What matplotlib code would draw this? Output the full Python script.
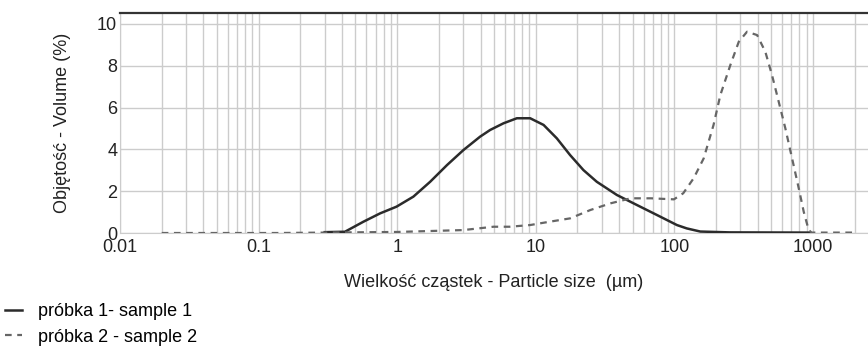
import numpy as np
import matplotlib
matplotlib.use("Agg")
import matplotlib.pyplot as plt
from matplotlib.ticker import FixedLocator, FuncFormatter

plt.rcParams['font.family'] = ['Liberation Sans', 'DejaVu Sans']

# próbka 1 - sample 1 (solid)
size1 = [0.3, 0.42, 0.571, 0.754, 0.99, 1.31, 1.73, 2.29, 3.01, 3.97, 4.69, 5.86,
         7.31, 9.12, 11.4, 14.2, 17.7, 22.1, 27.6, 38.5, 53.7, 75.0, 104.5, 123,
         154, 250, 950]
vol1 = [0.04, 0.06, 0.54, 0.94, 1.26, 1.74, 2.45, 3.25, 3.97, 4.61, 4.93, 5.25,
        5.49, 5.49, 5.17, 4.53, 3.73, 3.01, 2.45, 1.82, 1.34, 0.86, 0.38, 0.22,
        0.07, 0.03, 0.02]

# próbka 2 - sample 2 (dashed)
size2 = [0.02, 0.14, 1.0, 3.0, 4.96, 6.5, 9.1, 12.6, 17.7, 24.8, 34.7, 48.5, 67.9,
         99.4, 116, 138, 163, 192, 215, 254, 292, 335, 396, 454, 507, 567, 633,
         708, 791, 859, 933, 980, 2000]
vol2 = [0.0, 0.0, 0.05, 0.14, 0.30, 0.30, 0.38, 0.54, 0.70, 1.10, 1.42, 1.66, 1.66,
        1.61, 1.90, 2.62, 3.57, 5.17, 6.60, 8.04, 9.15, 9.63, 9.47, 8.67, 7.56,
        6.28, 5.01, 3.57, 2.14, 1.02, 0.14, 0.02, 0.02]

y_ticks = [0, 2, 4, 6, 8, 10]
x_ticks = [0.01, 0.1, 1, 10, 100, 1000]
x_labels = ['0.01', '0.1', '1', '10', '100', '1000']

fig = plt.figure(figsize=(8.68, 3.49), dpi=100)
ax = fig.add_axes([120 / 868, 1 - 233 / 349, 1 - 120 / 868, 220.5 / 349])

grid_c = '#cccccc'
ax.set_xscale('log')
ax.set_xlim(0.01, 2500)
ax.set_ylim(0, 10.55)

l1, = ax.plot(size1, vol1, color='#2b2b2b', lw=1.8, zorder=3)
l2, = ax.plot(size2, vol2, color='#666666', lw=1.6, ls=(0, (3, 2.5)), zorder=3)

ax.xaxis.set_major_locator(FixedLocator(x_ticks))
ax.xaxis.set_major_formatter(FuncFormatter(lambda v, p: x_labels[x_ticks.index(v)] if v in x_ticks else ''))
ax.xaxis.set_minor_locator(FixedLocator([m * 10.0 ** e for e in range(-2, 4) for m in range(2, 10)
                                         if m * 10.0 ** e <= 2000]))
ax.set_yticks(y_ticks)
ax.grid(True, which='both', axis='x', color=grid_c, lw=1)
ax.grid(True, which='major', axis='y', color=grid_c, lw=1)
ax.tick_params(which='both', length=0, labelsize=13, colors='#222222', pad=2)
ax.tick_params(axis='x', pad=4)

for s in ['left', 'bottom']:
    ax.spines[s].set_color(grid_c)
ax.spines['right'].set_visible(False)
ax.spines['top'].set_color('#333333')
ax.spines['top'].set_linewidth(1.6)

ax.set_xlabel('Wielkość cząstek - Particle size  (µm)', fontsize=13, color='#222222', labelpad=13)
ax.set_ylabel('Objętość - Volume (%)', fontsize=13, color='#222222', labelpad=19)

fig.legend([l1, l2], ['próbka 1- sample 1', 'próbka 2 - sample 2'],
           loc='upper left', bbox_to_anchor=(0.0, 1 - 298 / 349), frameon=False,
           fontsize=13, handlelength=0.9, handletextpad=0.9, labelspacing=0.45,
           borderaxespad=0, borderpad=0.3)

fig.savefig('out.png', dpi=100)
